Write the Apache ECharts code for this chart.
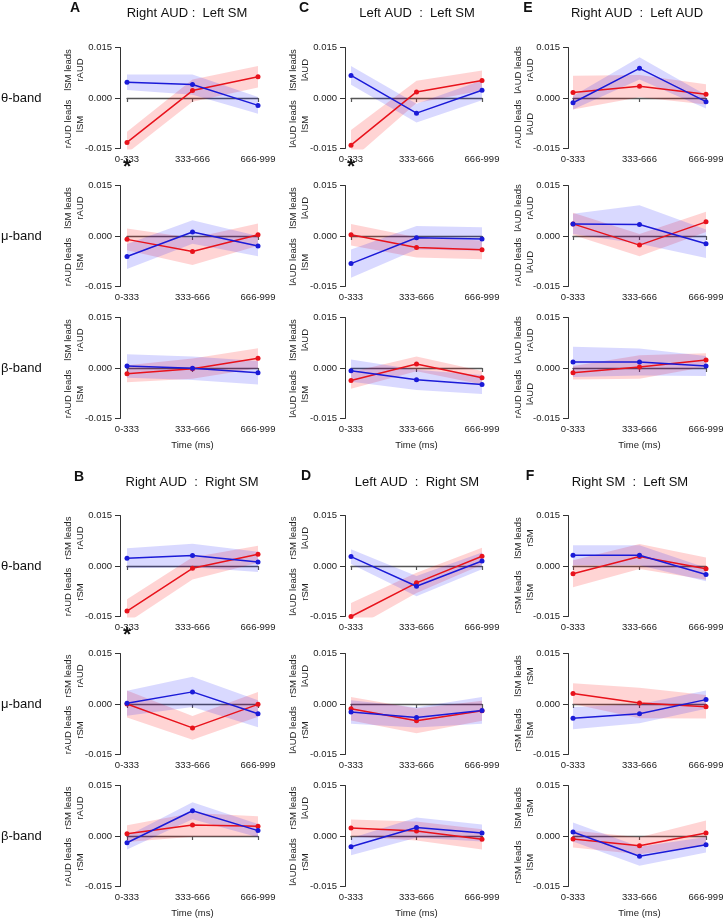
<!DOCTYPE html>
<html>
<head>
<meta charset="utf-8">
<script src="https://cdn.jsdelivr.net/npm/echarts@6/dist/echarts.min.js"></script>
<style>
  html, body { margin: 0; padding: 0; background: #fff; }
  #main { width: 723px; height: 919px; }
</style>
</head>
<body>
<div id="main"></div>
<script>
// time bins on the x axis
const timeBins = ['0-333', '333-666', '666-999']
const bandNames = ['θ-band', 'μ-band', 'β-band']

// rows = theta, mu, beta ; columns = time bins
const A_red = [[-0.0132, 0.0022, 0.0063], [-0.0010, -0.0046, 0.0004], [-0.0017, -0.0002, 0.0029]]
const A_redErr = [[0.0032, 0.0033, 0.0032], [0.0032, 0.0040, 0.0033], [0.0025, 0.0030, 0.0030]]
const A_blue = [[0.0047, 0.0040, -0.0022], [-0.0061, 0.0012, -0.0030], [0.0006, -0.0001, -0.0014]]
const A_blueErr = [[0.0023, 0.0030, 0.0025], [0.0037, 0.0035, 0.0030], [0.0035, 0.0035, 0.0035]]

const C_red = [[-0.0140, 0.0018, 0.0052], [0.0004, -0.0034, -0.0041], [-0.0037, 0.0012, -0.0029]]
const C_redErr = [[0.0045, 0.0033, 0.0030], [0.0032, 0.0030, 0.0028], [0.0025, 0.0022, 0.0020]]
const C_blue = [[0.0067, -0.0045, 0.0023], [-0.0082, -0.0005, -0.0009], [-0.0008, -0.0035, -0.0049]]
const C_blueErr = [[0.0028, 0.0028, 0.0030], [0.0042, 0.0035, 0.0035], [0.0033, 0.0030, 0.0028]]

const E_red = [[0.0016, 0.0035, 0.0011], [0.0036, -0.0027, 0.0042], [-0.0014, 0.0003, 0.0024]]
const E_redErr = [[0.0050, 0.0033, 0.0030], [0.0033, 0.0033, 0.0030], [0.0020, 0.0035, 0.0020]]
const E_blue = [[-0.0014, 0.0088, -0.0011], [0.0036, 0.0034, -0.0023], [0.0018, 0.0018, 0.0006]]
const E_blueErr = [[0.0020, 0.0033, 0.0020], [0.0030, 0.0057, 0.0042], [0.0045, 0.0040, 0.0030]]

const B_red = [[-0.0134, -0.0007, 0.0035], [0.0000, -0.0071, -0.0001], [0.0007, 0.0033, 0.0029]]
const B_redErr = [[0.0035, 0.0033, 0.0025], [0.0040, 0.0035, 0.0037], [0.0025, 0.0035, 0.0030]]
const B_blue = [[0.0023, 0.0031, 0.0012], [0.0002, 0.0036, -0.0029], [-0.0020, 0.0075, 0.0016]]
const B_blueErr = [[0.0030, 0.0035, 0.0030], [0.0037, 0.0045, 0.0040], [0.0020, 0.0025, 0.0020]]

const D_red = [[-0.0150, -0.0050, 0.0029], [-0.0014, -0.0050, -0.0020], [0.0024, 0.0015, -0.0010]]
const D_redErr = [[0.0040, 0.0030, 0.0025], [0.0035, 0.0037, 0.0030], [0.0025, 0.0028, 0.0030]]
const D_blue = [[0.0028, -0.0060, 0.0015], [-0.0024, -0.0040, -0.0019], [-0.0032, 0.0025, 0.0009]]
const D_blueErr = [[0.0022, 0.0030, 0.0025], [0.0035, 0.0030, 0.0040], [0.0025, 0.0030, 0.0025]]

const F_red = [[-0.0023, 0.0028, -0.0008], [0.0031, 0.0003, -0.0008], [-0.0009, -0.0029, 0.0009]]
const F_redErr = [[0.0040, 0.0037, 0.0033], [0.0031, 0.0045, 0.0035], [0.0025, 0.0025, 0.0037]]
const F_blue = [[0.0032, 0.0032, -0.0025], [-0.0042, -0.0029, 0.0013], [0.0012, -0.0060, -0.0026]]
const F_blueErr = [[0.0030, 0.0030, 0.0020], [0.0033, 0.0028, 0.0027], [0.0028, 0.0028, 0.0023]]

// panel setup
const panels = [
  { key: 'A', title: 'Right AUD :  Left SM', col: 0, half: 0, up: 'lSM leads\nrAUD', down: 'rAUD leads\nlSM', star: true, red: A_red, redErr: A_redErr, blue: A_blue, blueErr: A_blueErr },
  { key: 'C', title: 'Left AUD  :  Left SM', col: 1, half: 0, up: 'lSM leads\nlAUD', down: 'lAUD leads\nlSM', star: true, red: C_red, redErr: C_redErr, blue: C_blue, blueErr: C_blueErr },
  { key: 'E', title: 'Right AUD  :  Left AUD', col: 2, half: 0, up: 'lAUD leads\nrAUD', down: 'rAUD leads\nlAUD', star: false, red: E_red, redErr: E_redErr, blue: E_blue, blueErr: E_blueErr },
  { key: 'B', title: 'Right AUD  :  Right SM', col: 0, half: 1, up: 'rSM leads\nrAUD', down: 'rAUD leads\nrSM', star: true, red: B_red, redErr: B_redErr, blue: B_blue, blueErr: B_blueErr },
  { key: 'D', title: 'Left AUD  :  Right SM', col: 1, half: 1, up: 'rSM leads\nlAUD', down: 'lAUD leads\nrSM', star: false, red: D_red, redErr: D_redErr, blue: D_blue, blueErr: D_blueErr },
  { key: 'F', title: 'Right SM  :  Left SM', col: 2, half: 1, up: 'lSM leads\nrSM', down: 'rSM leads\nlSM', star: false, red: F_red, redErr: F_redErr, blue: F_blue, blueErr: F_blueErr }
]

// layout
const colLeft = [127, 351, 573]
const plotW = [131, 131, 133]
const yOffset = [7, 6, 5]
const rowZero = [98, 236, 368]
const halfShift = [0, 468]
const halfH = 50.5
const nameX = [74, 299, 524]
const letterPos = { A: [75, 8], C: [304, 8], E: [528, 8], B: [79, 477], D: [306, 476], F: [530, 476] }
const titleX = { A: 187, C: 417, E: 637, B: 192, D: 417, F: 630 }
const titleY = [13, 482]
const timeY = 445

const FONT = '"Liberation Sans", Arial, sans-serif'
const RED = '#e8121b'
const BLUE = '#1a1ad8'
const RED_BAND = 'rgba(255,0,0,0.17)'
const BLUE_BAND = 'rgba(0,0,255,0.15)'

const grid = []
const xAxis = []
const yAxis = []
const series = []
const graphic = []

function textEl (x, y, text, opts) {
  return Object.assign({
    type: 'text',
    x: x,
    y: y,
    silent: true,
    style: Object.assign({
      text: text,
      fontFamily: FONT,
      fontSize: 9.5,
      fill: '#222',
      align: 'center',
      verticalAlign: 'middle',
      textAlign: 'center',
      textVerticalAlign: 'middle'
    }, opts.style || {})
  }, opts.el || {})
}

panels.forEach(function (p) {
  const lp = letterPos[p.key]
  graphic.push(textEl(lp[0], lp[1], p.key, { style: { fontSize: 14, fontWeight: 'bold', fill: '#111' } }))
  graphic.push(textEl(titleX[p.key], titleY[p.half], p.title, { style: { fontSize: 13, fill: '#111' } }))
  // x axis title under the beta row
  graphic.push(textEl(colLeft[p.col] + plotW[p.col] / 2, timeY + halfShift[p.half], 'Time (ms)', {}))

  for (let r = 0; r < 3; r++) {
    const gi = grid.length
    const zero = rowZero[r] + halfShift[p.half]
    grid.push({
      left: colLeft[p.col],
      top: zero - halfH,
      width: plotW[p.col],
      height: halfH * 2,
      containLabel: false,
      outerBoundsMode: 'none'
    })
    xAxis.push({
      type: 'category',
      gridIndex: gi,
      data: timeBins,
      boundaryGap: false,
      axisLine: { onZero: true, lineStyle: { color: '#555', width: 1.4 } },
      axisTick: { show: true, length: 4, alignWithLabel: true, lineStyle: { color: '#555', width: 1.2 } },
      axisLabel: { interval: 0, fontSize: 9.5, fontFamily: FONT, color: '#222', margin: 6 },
      splitLine: { show: false }
    })
    yAxis.push({
      type: 'value',
      gridIndex: gi,
      min: -0.015,
      max: 0.015,
      interval: 0.015,
      offset: yOffset[p.col],
      axisLine: { show: true, onZero: false, lineStyle: { color: '#333', width: 1 } },
      axisTick: { show: true, length: 5, lineStyle: { color: '#333' } },
      axisLabel: {
        fontSize: 9.5,
        fontFamily: FONT,
        color: '#222',
        margin: 8,
        formatter: function (v) { return Math.abs(v) < 1e-9 ? '0.000' : v.toFixed(3) }
      },
      splitLine: { show: false }
    })

    const groups = [
      { name: 'red', mean: p.red[r], err: p.redErr[r], line: RED, band: RED_BAND },
      { name: 'blue', mean: p.blue[r], err: p.blueErr[r], line: BLUE, band: BLUE_BAND }
    ]
    groups.forEach(function (g) {
      const lo = g.mean.map(function (v, i) { return v - g.err[i] })
      const span = g.err.map(function (e) { return 2 * e })
      const stackId = p.key + r + g.name
      series.push({
        type: 'line',
        xAxisIndex: gi,
        yAxisIndex: gi,
        data: lo,
        stack: stackId,
        stackStrategy: 'all',
        symbol: 'none',
        silent: true,
        lineStyle: { opacity: 0 },
        z: 1
      })
      series.push({
        type: 'line',
        xAxisIndex: gi,
        yAxisIndex: gi,
        data: span,
        stack: stackId,
        stackStrategy: 'all',
        symbol: 'none',
        silent: true,
        lineStyle: { opacity: 0 },
        areaStyle: { color: g.band, opacity: 1 },
        z: 1
      })
    })
    groups.forEach(function (g) {
      series.push({
        type: 'line',
        xAxisIndex: gi,
        yAxisIndex: gi,
        data: g.mean,
        symbol: 'circle',
        symbolSize: 5,
        clip: false,
        silent: true,
        lineStyle: { color: g.line, width: 1.5 },
        itemStyle: { color: g.line },
        z: 3
      })
    })

    // rotated direction labels
    graphic.push(textEl(nameX[p.col], zero - 28, p.up, { style: { lineHeight: 12 }, el: { rotation: Math.PI / 2 } }))
    graphic.push(textEl(nameX[p.col], zero + 26, p.down, { style: { lineHeight: 12 }, el: { rotation: Math.PI / 2 } }))

    if (r === 0 && p.star) {
      graphic.push(textEl(colLeft[p.col], zero + 69, '*', { style: { fontSize: 21, fontWeight: 'bold', fill: '#111' } }))
    }
    if (p.col === 0) {
      graphic.push(textEl(1, zero, bandNames[r], { style: { fontSize: 13, align: 'left', textAlign: 'left', fill: '#111' } }))
    }
  }
})

const myChart = echarts.init(document.getElementById('main'))
myChart.setOption({
  backgroundColor: '#fff',
  animation: false,
  grid: grid,
  xAxis: xAxis,
  yAxis: yAxis,
  series: series,
  graphic: graphic
})
</script>
</body>
</html>
